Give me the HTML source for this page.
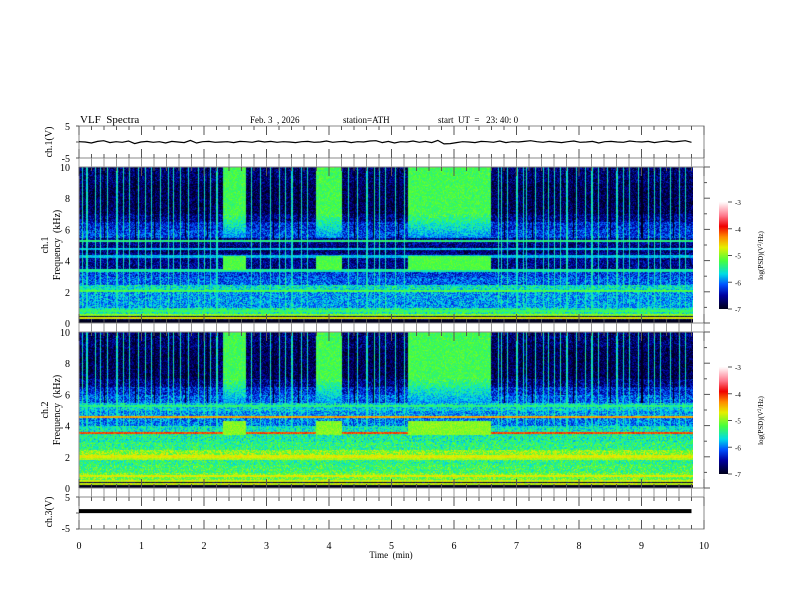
<!DOCTYPE html>
<html><head><meta charset="utf-8"><style>
body{margin:0;background:#fff;width:792px;height:612px;overflow:hidden;position:relative;font-family:"Liberation Serif",serif}
canvas{position:absolute}
svg{position:absolute;left:0;top:0}
text{font-family:"Liberation Serif",serif;fill:#000;white-space:pre}
</style></head><body>
<canvas id="spec1" width="614" height="156" style="left:79px;top:167px"></canvas>
<canvas id="spec2" width="614" height="156" style="left:79px;top:332px"></canvas>
<canvas id="cb1" width="9" height="107" style="left:719px;top:202px"></canvas>
<canvas id="cb2" width="9" height="107" style="left:719px;top:367px"></canvas>
<svg id="ov" width="792" height="612" xml:space="preserve"></svg>
<script>
// ---- data ----
const timeTicks=[0,1,2,3,4,5,6,7,8,9,10];
const freqTicks=[0,2,4,6,8,10];
const cbTicks=[-3,-4,-5,-6,-7];
// log PSD per 0.5 kHz band, 0..10 kHz (20 bands)
const ch1Profile=[-6.9,-5.5,-5.9,-5.9,-5.6,-6.1,-6.2,-6.6,-6.6,-6.7,-6.6,-6.2,-6.3,-6.6,-6.8,-6.8,-6.8,-6.8,-6.7,-6.7];
const ch2Profile=[-6.9,-5.1,-5.3,-5.4,-5.0,-5.4,-5.5,-5.6,-6.0,-5.9,-5.7,-6.1,-6.3,-6.6,-6.8,-6.8,-6.8,-6.8,-6.7,-6.7];
// narrow spectral lines (kHz, level)
const ch1LineFreqs=[0.35,0.55,0.8,2.1,3.4,4.3,4.8,5.3];
const ch1LineLevels=[-4.7,-5.0,-5.3,-5.2,-5.5,-5.8,-5.8,-5.4];
const ch2LineFreqs=[0.3,0.5,0.8,1.9,2.05,3.55,4.6,5.3];
const ch2LineLevels=[-4.8,-4.8,-4.7,-4.9,-4.7,-4.1,-4.4,-5.4];
const eventStarts=[2.29,3.78,5.26];
const eventEnds=[2.66,4.2,6.58];
const streakTimes=[0.05,0.12,0.25,0.33,0.45,0.6,0.7,0.8,0.95,1.05,1.15,1.3,1.42,1.5,1.62,1.75,1.9,2.0,2.1,2.2,2.75,2.9,3.05,3.2,3.3,3.4,3.55,3.65,4.3,4.45,4.6,4.72,4.8,4.9,5.05,5.2,6.7,6.75,6.85,7.0,7.1,7.15,7.3,7.42,7.5,7.6,7.7,7.8,7.95,8.1,8.2,8.3,8.45,8.6,8.7,8.8,8.95,9.1,9.2,9.3,9.45,9.6,9.7];
const darkStreakTimes=[0.4,0.9,1.2,1.7,2.05,3.1,3.5,4.4,4.7,5.1,6.8,7.25,7.9,8.5,9.0,9.5];
const ch1Wave=[0.1,0.0,-0.3,0.2,0.4,-0.2,0.1,-0.1,0.3,-0.5,0.0,0.2,-0.1,0.1,-0.3,0.2,0.0,-0.2,0.5,-0.3,0.1,0.2,-0.1,0.0,0.1,-0.2,0.2,0.1,-0.1,0.3,0.0,0.2,-0.1,0.1,0.0,-0.2,0.1,0.2,-0.1,0.0,0.3,-0.1,0.1,0.2,-0.2,0.1,0.0,0.3,0.4,-0.2,
  0.2,-0.3,0.1,0.0,0.3,-0.1,0.2,-0.2,0.5,-0.6,-0.5,-0.2,0.1,0.0,-0.2,0.2,0.1,-0.1,0.3,-0.2,0.1,0.0,0.2,0.4,0.1,-0.1,0.2,0.0,-0.2,0.1,0.3,-0.1,0.0,0.2,-0.3,0.1,0.2,0.0,-0.1,0.3,0.1,0.0,0.2,-0.2,0.1,0.3,0.0,0.2,0.4,-0.1];
const ch3Level=0.6;
// ---- axes ----
const X0=79,X1=704;
const xs=t=>X0+(X1-X0)*t/10;
const colorStops=[[-7,[0,0,30]],[-6.5,[0,0,160]],[-6.1,[0,80,255]],[-5.7,[0,220,230]],[-5.2,[70,255,60]],[-4.7,[230,240,0]],[-4.3,[255,140,0]],[-3.9,[240,0,0]],[-3.5,[255,120,140]],[-3,[255,250,250]]];
function cmap(v){
  if(v<=-7)return colorStops[0][1];if(v>=-3)return colorStops[colorStops.length-1][1];
  for(let i=1;i<colorStops.length;i++){if(v<=colorStops[i][0]){const[a,ca]=colorStops[i-1],[b,cb]=colorStops[i];const u=(v-a)/(b-a);return ca.map((c,k)=>Math.round(c+(cb[k]-c)*u));}}
}
function hash(x,y){let h=(x*374761393+y*668265263)|0;h=(h^(h>>>13))*1274126177|0;return((h^(h>>>16))>>>0)/4294967296;}
function drawSpec(id,prof,lf,ll,ch){
  const c=document.getElementById(id),g=c.getContext('2d'),W=c.width,H=c.height,img=g.createImageData(W,H);
  for(let x=0;x<W;x++){const t=x/625*10;
    let ev=false;for(let i=0;i<eventStarts.length;i++)if(t>=eventStarts[i]&&t<=eventEnds[i])ev=true;
    let st=false;for(const s of streakTimes)if(Math.abs(t-s)<0.009)st=true;
    let dk=false;for(const s of darkStreakTimes)if(Math.abs(t-s)<0.009)dk=true;
    for(let y=0;y<H;y++){const f=10*(1-y/H);const b=Math.min(19,Math.floor(f/0.5));
      let v=prof[b]+(hash(x,y+ch*999)-0.5)*0.8;
      for(let i=0;i<lf.length;i++)if(Math.abs(f-lf[i])<0.07)v=ll[i]+(hash(y,x)-0.5)*0.3;
      if(ev){if(f>7)v=Math.max(v,-5.25+(hash(x,y)-0.5)*0.4);
        else if(f>5.5)v=Math.max(v,-5.25-(7-f)*0.45+(hash(x,y)-0.5)*0.6);
        if(f>3.4&&f<4.3)v=(ch?-5.0:-5.2)+(hash(y,x)-0.5)*0.3;}
      if(dk&&f>5.5&&!ev)v=-7;
      if(st&&f>0.9)v=Math.max(v,-5.6+(hash(x+1,y)-0.5)*0.5);
      if(f<0.2)v=-7;
      const [r,gg,bb]=cmap(v);const k=(y*W+x)*4;img.data[k]=r;img.data[k+1]=gg;img.data[k+2]=bb;img.data[k+3]=255;}}
  g.putImageData(img,0,0);
}
drawSpec('spec1',ch1Profile,ch1LineFreqs,ch1LineLevels,0);drawSpec('spec2',ch2Profile,ch2LineFreqs,ch2LineLevels,1);
['cb1','cb2'].forEach(id=>{const c=document.getElementById(id),g=c.getContext('2d');for(let y=0;y<c.height;y++){const v=-3-4*y/(c.height-1);const[r,gg,b]=cmap(v);g.fillStyle=`rgb(${r},${gg},${b})`;g.fillRect(0,y,c.width,1);}});
// ---- SVG overlay ----
const NS='http://www.w3.org/2000/svg',svg=document.getElementById('ov');
function el(tag,a,txt){const e=document.createElementNS(NS,tag);for(const k in a)e.setAttribute(k,a[k]);if(txt!=null)e.textContent=txt;svg.appendChild(e);return e;}
function txt(x,y,s,size,anchor,rot,name){const e=el('text',{x:x,y:y,'font-size':size,'text-anchor':anchor||'start'},s);if(rot)e.setAttribute('transform',`rotate(-90 ${x} ${y})`);
  
  return e;}
const panels=[[126,158,'ch1-panel'],[167,323,'ch1-spec-panel'],[332,488,'ch2-spec-panel'],[497,529,'ch3-panel']];
panels.forEach(([y0,y1,n])=>{
  const r=el('rect',{x:X0,y:y0,width:X1-X0,height:y1-y0,fill:'none',stroke:'#888','stroke-width':1});
  
  
  for(let i=0;i<=50;i++){const x=xs(i/5),L=i%5?4:9;
    el('line',{x1:x,x2:x,y1:y0,y2:y0+L,stroke:'#555','stroke-width':1});el('line',{x1:x,x2:x,y1:y1,y2:y1-L,stroke:'#555','stroke-width':1});}
});
[[158,167],[323,332],[488,497]].forEach(([a,b])=>{for(let i=0;i<=50;i++){const x=xs(i/5);el('line',{x1:x,x2:x,y1:a,y2:b,stroke:'#999','stroke-width':1});}});
[[126,158],[497,529]].forEach(([y0,y1])=>{[y0,(y0+y1)/2,y1].forEach(y=>{el('line',{x1:X0-3,x2:X0,y1:y,y2:y,stroke:'#555'});});});
[[167,323],[332,488]].forEach(([y0,y1])=>{for(let f=0;f<=10;f+=1){const y=y1-(y1-y0)*f/10;el('line',{x1:X1,x2:X1+(f%2?3:6),y1:y,y2:y,stroke:'#555'});}
  freqTicks.forEach(f=>{const y=y1-(y1-y0)*f/10;txt(70,y+4,String(f),10,'end',0,'freq-tick-label');});});
txt(70,130,'5',10,'end',0,'ch1-tick-5');txt(70,162,'-5',10,'end',0,'ch1-tick-m5');
txt(70,501,'5',10,'end',0,'ch3-tick-5');txt(70,532,'-5',10,'end',0,'ch3-tick-m5');
timeTicks.forEach(t=>txt(xs(t),549,String(t),10,'middle',0,'time-tick-label'));
txt(391,558,'Time  (min)',9,'middle',0,'x-axis-title');
txt(80,123,'VLF  Spectra',11,'start',0,'chart-title');
txt(250,123,'Feb. 3  , 2026',9,'start',0,'date-label');
txt(343,123,'station=ATH',9,'start',0,'station-label');
txt(438,123,'start  UT  =   23: 40: 0',9,'start',0,'start-time-label');
txt(52,142,'ch.1(V)',10,'middle',1,'ch1-y-title');
txt(52,512,'ch.3(V)',10,'middle',1,'ch3-y-title');
txt(48,245,'ch.1',10,'middle',1,'ch1-spec-title');txt(60,245,'Frequency  (kHz)',10,'middle',1,'ch1-freq-title');
txt(48,410,'ch.2',10,'middle',1,'ch2-spec-title');txt(60,410,'Frequency  (kHz)',10,'middle',1,'ch2-freq-title');
[[202,309],[367,474]].forEach(([y0,y1],k)=>{cbTicks.forEach(v=>{const y=y0+(y1-y0)*(-3-v)/4;el('line',{x1:728,x2:732,y1:y,y2:y,stroke:'#555'});txt(735,y+3,String(v),7,'start',0,'colorbar-tick');});
  const t=el('text',{x:763,y:(y0+y1)/2,'font-size':7,'text-anchor':'middle',transform:`rotate(-90 763 ${(y0+y1)/2})`});t.innerHTML='log(PSD)(V<tspan dy="-2" font-size="5">2</tspan><tspan dy="2">/Hz)</tspan>';
  
  });
const y1c=v=>142-v*3.2;
let d='';ch1Wave.forEach((v,i)=>{const t=9.8*i/(ch1Wave.length-1);d+=(i?'L':'M')+xs(t).toFixed(1)+','+y1c(v).toFixed(1);});
const w1=el('path',{d:d,fill:'none',stroke:'#000','stroke-width':1.2});


const y3=513-ch3Level*3.2;
const w3=el('line',{x1:X0,x2:xs(9.8),y1:y3,y2:y3,stroke:'#000','stroke-width':4});


</script>
</body></html>
